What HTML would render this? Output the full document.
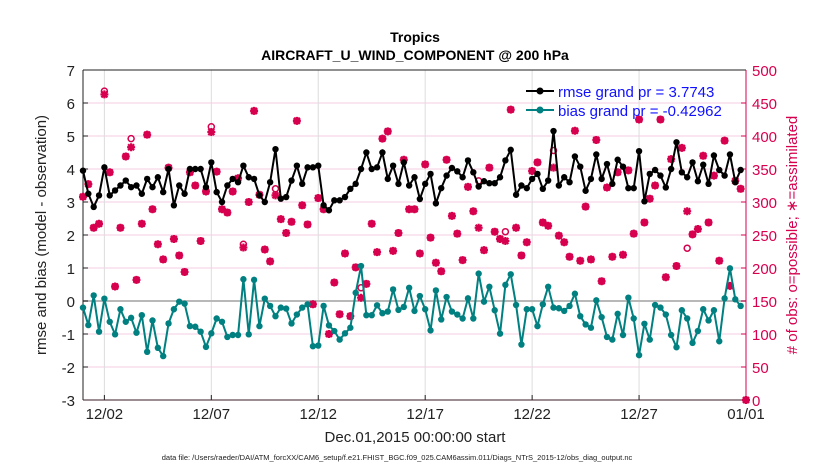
<!DOCTYPE html>
<html><head><meta charset="utf-8"><style>
html,body{margin:0;padding:0;background:#fff;width:830px;height:470px;overflow:hidden}
svg{display:block;font-family:"Liberation Sans",sans-serif}
</style></head><body>
<svg id="chart" width="830" height="470">
<text x="415" y="42" text-anchor="middle" font-size="14" font-weight="bold">Tropics</text>
<text x="415" y="60" text-anchor="middle" font-size="14" font-weight="bold">AIRCRAFT_U_WIND_COMPONENT @ 200 hPa</text>
<g id="grid"></g>
<g id="axes"></g>
<g id="obs"></g>
<g id="lines"></g>
<text x="415" y="442" text-anchor="middle" font-size="15" fill="#222">Dec.01,2015 00:00:00 start</text>
<text x="397" y="460" text-anchor="middle" font-size="7.5" fill="#222">data file: /Users/raeder/DAI/ATM_forcXX/CAM6_setup/f.e21.FHIST_BGC.f09_025.CAM6assim.011/Diags_NTrS_2015-12/obs_diag_output.nc</text>
<text transform="translate(46,235) rotate(-90)" text-anchor="middle" font-size="15" fill="#222">rmse and bias (model - observation)</text>
<text transform="translate(797,235) rotate(-90)" text-anchor="middle" font-size="15" fill="#d6004f"># of obs: o=possible; ∗=assimilated</text>
<g>
<line x1="526" y1="91" x2="554" y2="91" stroke="#000" stroke-width="2"/>
<circle cx="540" cy="91" r="3.5" fill="#000"/>
<text x="558" y="97" font-size="15" fill="#1010ff">rmse grand pr = 3.7743</text>
<line x1="526" y1="110" x2="554" y2="110" stroke="#008080" stroke-width="2"/>
<circle cx="540" cy="110" r="3.5" fill="#008080"/>
<text x="558" y="116" font-size="15" fill="#1010ff">bias grand pr = -0.42962</text>
</g>
</svg>
<script>
const rmse=[3.95,3.25,2.85,3.2,4.05,3.2,3.35,3.5,3.65,3.45,3.5,3.25,3.7,3.45,3.75,3.3,4.0,2.9,3.5,3.25,4.0,4.0,4.0,3.45,4.2,3.3,3.0,3.5,3.7,3.6,4.1,3.75,3.7,3.2,3.0,3.6,4.6,3.1,3.15,3.65,4.1,3.55,4.05,4.05,4.1,2.9,2.75,3.05,3.05,3.15,3.4,3.55,4.0,4.5,4.0,4.05,4.5,3.7,4.1,3.55,4.2,3.5,
3.75,3.09,3.55,3.85,2.96,3.42,3.8,4.03,3.93,3.75,4.26,3.9,3.47,3.63,3.57,3.57,3.75,4.26,4.58,3.22,3.5,3.42,3.7,3.85,3.4,3.65,5.15,3.5,3.75,3.6,4.38,4.07,3.34,3.7,4.44,3.7,4.15,3.55,4.28,4.07,3.42,3.42,4.54,3.02,3.85,3.97,3.8,3.44,4.0,4.81,3.9,3.75,4.2,3.63,4.13,3.55,4.41,3.97,3.8,4.44,3.6,3.97];
const bias=[-0.2,-0.73,0.17,-0.93,0.07,-0.63,-1.01,-0.25,-0.63,-0.51,-0.96,-0.43,-1.54,-0.59,-1.42,-1.67,-0.68,-0.25,-0.02,-0.08,-0.76,-0.78,-0.93,-1.39,-0.98,-0.53,-0.63,-1.09,-1.03,-1.03,0.66,-1.01,0.64,-0.76,0.07,-0.15,-0.46,-0.2,-0.23,-0.68,-0.41,-0.2,-0.1,-1.37,-1.35,-0.15,-0.74,-0.91,-1.17,-0.98,-0.81,0.25,1.06,-0.43,-0.43,-0.13,-0.37,-0.32,0.35,-0.27,-0.18,0.4,
-0.30,0.15,-0.25,-0.89,0.32,-0.56,0.12,-0.32,-0.41,-0.53,0.08,-0.53,0.83,-0.02,0.43,-0.28,-0.99,0.49,0.81,-0.12,-1.32,-0.25,-0.25,-0.76,-0.10,0.43,-0.20,-0.22,-0.30,-0.15,0.22,-0.46,-0.71,-0.81,0.02,-0.49,-1.09,-1.17,-0.39,-1.03,0.10,-0.53,-1.64,-0.69,-1.17,-0.12,-0.20,-0.41,-1.03,-1.40,-0.28,-0.53,-1.27,-0.91,-0.25,-0.59,-0.28,-1.22,0.08,0.99,0.05,-0.15];
const nAssim=[308,327,261,267,463,345,172,261,369,383,182,267,402,289,236,213,352,244,219,194,345,325,241,316,406,346,289,284,316,336,231,300,438,311,228,210,310,274,253,270,423,295,266,145,306,289,100,178,130,222,127,201,155,176,267,224,396,407,226,253,364,289,
289,222,357,246,208,195,364,279,252,212,323,286,261,227,352,255,244,241,440,261,219,239,347,360,269,264,352,249,239,217,408,211,293,213,394,180,322,217,345,220,348,252,425,269,305,325,425,186,365,203,382,286,251,259,370,269,340,211,393,173,332,320,0];
const nPoss=nAssim.map((v,i)=>v);
nPoss[4]=468;nPoss[9]=396;nPoss[24]=414;nPoss[30]=236;nPoss[36]=320;nPoss[52]=170;nPoss[18+62-62]=nPoss[18];
nPoss[79]=255;nPoss[88]=378;nPoss[74]=332;nPoss[113]=230;
const xTicks=["12/02","12/07","12/12","12/17","12/22","12/27","01/01"];
const yLeftTicks=[-3,-2,-1,0,1,2,3,4,5,6,7];
const yRightTicks=[0,50,100,150,200,250,300,350,400,450,500];

const L=83,R=746,T=70,B=400;
const NS="http://www.w3.org/2000/svg";
const X=d=>L+(R-L)*d/31;
const Y=v=>B-(B-T)*(v+3)/10;
const YR=n=>B-(B-T)*n/500;
function mk(tag,attrs,parent){const e=document.createElementNS(NS,tag);for(const k in attrs)e.setAttribute(k,attrs[k]);parent.appendChild(e);return e;}
const grid=document.getElementById('grid'),axes=document.getElementById('axes'),obs=document.getElementById('obs'),lines=document.getElementById('lines');
yLeftTicks.forEach(v=>{
  const g=mk('line',{x1:L,x2:R,y1:Y(v),y2:Y(v),stroke:'#f5cde0','stroke-width':1},grid);
  
  
  const t=mk('text',{x:L-8,y:Y(v)+6,'text-anchor':'end','font-size':15,fill:'#222'},axes);
  t.textContent=v;
  
  
  mk('line',{x1:L,x2:L+5,y1:Y(v),y2:Y(v),stroke:'#222'},axes);
});
yRightTicks.forEach(n=>{
  const t=mk('text',{x:R+6,y:YR(n)+6,'font-size':15,fill:'#d6004f'},axes);
  t.textContent=n;
  
  
  mk('line',{x1:R-5,x2:R,y1:YR(n),y2:YR(n),stroke:'#d6004f'},axes);
});
xTicks.forEach((s,i)=>{
  const d=1+5*i;
  const g=mk('line',{x1:X(d),x2:X(d),y1:T,y2:B,stroke:'#ddd','stroke-width':1},grid);
  
  
  mk('line',{x1:X(d),x2:X(d),y1:B,y2:B-5,stroke:'#222'},axes);
  const t=mk('text',{x:X(d),y:B+19,'text-anchor':'middle','font-size':15,fill:'#222'},axes);
  t.textContent=s;
  
  
});
const z=mk('line',{x1:L,x2:R,y1:Y(0),y2:Y(0),stroke:'#b8b8b8','stroke-width':2},grid);


mk('line',{x1:L,x2:L,y1:T,y2:B,stroke:'#222'},axes);
mk('line',{x1:L,x2:R,y1:T,y2:T,stroke:'#222'},axes);
mk('line',{x1:L,x2:R,y1:B,y2:B,stroke:'#3a1a2a'},axes);
mk('line',{x1:R,x2:R,y1:T,y2:B,stroke:'#d6004f'},axes);

nAssim.forEach((n,i)=>{
  const x=X(i*0.25),yp=YR(nPoss[i]),ya=YR(n);
  const c=mk('circle',{cx:x,cy:yp,r:3,fill:'none',stroke:'#d6004f','stroke-width':1.5},obs);
  
  
  const p=mk('path',{d:`M${x-4},${ya}h8M${x},${ya-4}v8M${x-3},${ya-3}l6,6M${x-3},${ya+3}l6,-6`,stroke:'#d6004f','stroke-width':2.2},obs);
  
  
});
function series(arr,color,name){
  const pl=mk('polyline',{points:arr.map((v,i)=>X(i*0.25)+','+Y(v)).join(' '),fill:'none',stroke:color,'stroke-width':2},lines);
  
  
  arr.forEach((v,i)=>{
    const c=mk('circle',{cx:X(i*0.25),cy:Y(v),r:3.2,fill:color},lines);
    
    
  });
}
series(rmse,'#000','rmse');
series(bias,'#008080','bias');
</script>
</body></html>
